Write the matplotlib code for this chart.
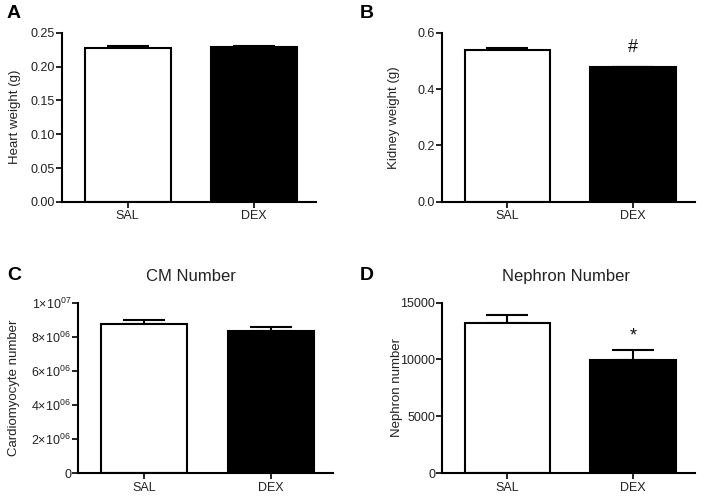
import numpy as np
import matplotlib
matplotlib.use("Agg")
import matplotlib.pyplot as plt

plt.rcParams['font.family'] = ['Liberation Sans', 'DejaVu Sans']
plt.rcParams['mathtext.fontset'] = 'custom'
plt.rcParams['mathtext.rm'] = 'Liberation Sans'
plt.rcParams['mathtext.it'] = 'Liberation Sans'

groups = ['SAL', 'DEX']

heart_mean = [0.227, 0.229]
heart_sem = [0.004, 0.002]

kidney_mean = [0.540, 0.480]
kidney_sem = [0.006, 0.0]

cm_mean = [8.77e6, 8.36e6]
cm_sem = [0.18e6, 0.18e6]

nephron_mean = [13200, 9950]
nephron_sem = [720, 850]

colors = ['white', 'black']

fig = plt.figure(figsize=(7.04, 4.96), dpi=100)


def bar_panel(rect, means, sems, ylabel, label_x, yticks, yticklabels,
              title=None, title_x=0.5, mark=None):
    ax = fig.add_axes(rect)
    x = np.arange(len(groups))
    ax.bar(x, means, width=0.68, color=colors, edgecolor='black', linewidth=1.5, zorder=2)
    for i in range(len(x)):
        ax.errorbar(x[i], means[i], yerr=[[0], [sems[i]]], fmt='none', ecolor='black',
                    elinewidth=1.5, capsize=15, capthick=1.5, zorder=1)
    ax.set_xlim(-0.52, 1.49)
    ax.set_ylim(0, yticks[-1])
    ax.set_xticks(x)
    ax.set_xticklabels(groups, fontsize=9, color='#222222')
    ax.set_yticks(yticks)
    ax.set_yticklabels(yticklabels, fontsize=9, color='#222222')
    ax.spines['top'].set_visible(False)
    ax.spines['right'].set_visible(False)
    ax.spines['left'].set_linewidth(1.5)
    ax.spines['bottom'].set_linewidth(1.5)
    ax.tick_params(axis='y', length=4, width=1.2, pad=1)
    ax.tick_params(axis='x', length=4, width=1.2, pad=2)
    ax.set_ylabel(ylabel, fontsize=9.5, color='#222222')
    ax.yaxis.set_label_coords(label_x, 0.5)
    if title:
        ax.text(title_x, 1.155, title, transform=ax.transAxes, ha='center', va='center',
                fontsize=12, color='#222222')
    if mark == '#':
        ax.text(1, means[1] + sems[1] + yticks[-1] * 0.06, mark, ha='center', va='bottom',
                fontsize=13, color='#111111')
    elif mark:
        ax.text(1, means[1] + sems[1] + yticks[-1] * 0.035, mark, ha='center', va='bottom',
                fontsize=13, color='#111111')
    return ax


bar_panel([0.088, 0.593, 0.361, 0.341], heart_mean, heart_sem, 'Heart weight (g)', -0.161,
          [0, 0.05, 0.10, 0.15, 0.20, 0.25], ['0.00', '0.05', '0.10', '0.15', '0.20', '0.25'])
bar_panel([0.628, 0.593, 0.359, 0.341], kidney_mean, kidney_sem, 'Kidney weight (g)', -0.166,
          [0, 0.2, 0.4, 0.6], ['0.0', '0.2', '0.4', '0.6'], mark='#')
bar_panel([0.111, 0.046, 0.362, 0.344], cm_mean, cm_sem, 'Cardiomyocyte number', -0.227,
          [0, 2e6, 4e6, 6e6, 8e6, 1e7],
          ['0', r'$2{\times}10^{06}$', r'$4{\times}10^{06}$', r'$6{\times}10^{06}$',
           r'$8{\times}10^{06}$', r'$1{\times}10^{07}$'],
          title='CM Number', title_x=0.443)
bar_panel([0.628, 0.046, 0.359, 0.344], nephron_mean, nephron_sem, 'Nephron number', -0.154,
          [0, 5000, 10000, 15000], ['0', '5000', '10000', '15000'],
          title='Nephron Number', title_x=0.49, mark='*')

for letter, (px, py) in zip('ABCD', [(7, 13), (360, 13), (7, 275), (360, 275)]):
    fig.text(px / 704, 1 - py / 496, letter, fontsize=14, fontweight='bold', va='center')

fig.savefig('out.png', dpi=100)
